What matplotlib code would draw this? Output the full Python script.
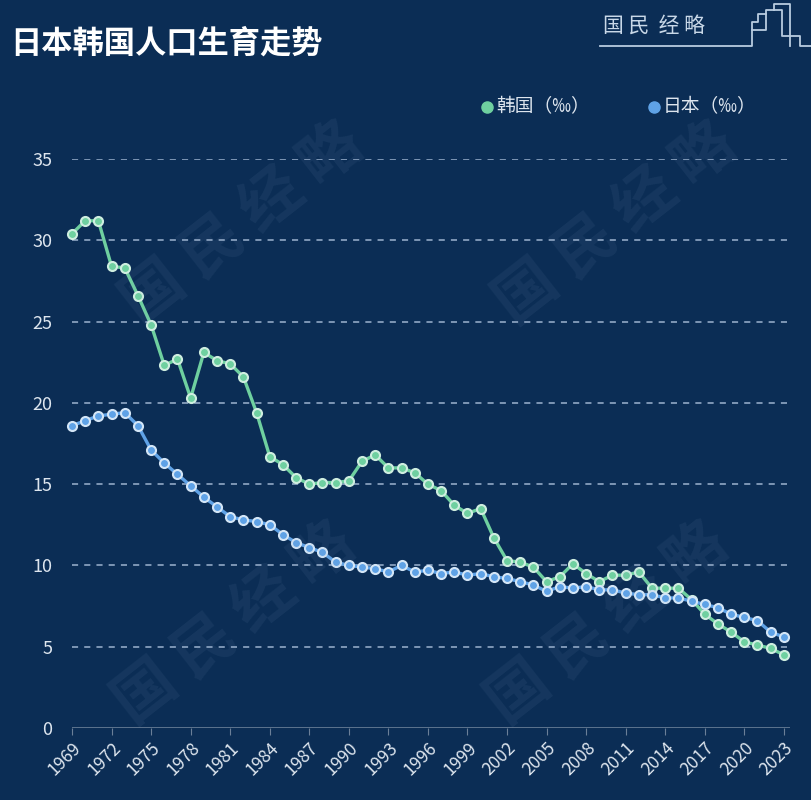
import matplotlib
matplotlib.use("Agg")
import matplotlib.pyplot as plt
from matplotlib.lines import Line2D
import numpy as np

plt.rcParams['font.family'] = ['Noto Sans CJK SC', 'DejaVu Sans']

# data (births per 1000) ---
years = list(range(1969, 2024))
korea = [30.4, 31.2, 31.2, 28.4, 28.3, 26.6, 24.8, 22.3, 22.7, 20.3,
         23.1, 22.6, 22.4, 21.6, 19.4, 16.7, 16.2, 15.4, 15.0, 15.1,
         15.1, 15.2, 16.4, 16.8, 16.0, 16.0, 15.7, 15.0, 14.6, 13.7,
         13.2, 13.5, 11.7, 10.3, 10.2, 9.9, 9.0, 9.3, 10.1, 9.5,
         9.0, 9.4, 9.4, 9.6, 8.6, 8.6, 8.6, 7.9, 7.0, 6.4,
         5.9, 5.3, 5.1, 4.9, 4.5]
japan = [18.6, 18.9, 19.2, 19.3, 19.4, 18.6, 17.1, 16.3, 15.6, 14.9,
         14.2, 13.6, 13.0, 12.8, 12.7, 12.5, 11.9, 11.4, 11.1, 10.8,
         10.2, 10.0, 9.9, 9.8, 9.6, 10.0, 9.6, 9.7, 9.5, 9.6,
         9.4, 9.5, 9.3, 9.2, 9.0, 8.8, 8.4, 8.7, 8.6, 8.7,
         8.5, 8.5, 8.3, 8.2, 8.2, 8.0, 8.0, 7.8, 7.6, 7.4,
         7.0, 6.8, 6.6, 5.9, 5.6]
xticks = list(range(1969, 2024, 3))
yticks = [0, 5, 10, 15, 20, 25, 30, 35]

title = '日本韩国人口生育走势'
label_kr = '韩国（‰）'
label_jp = '日本（‰）'
brand = '国民经略'

# style ---
BG = '#0b2d55'
GREEN = '#6fd0a0'
BLUE = '#5fa2e6'
TXT = '#dde5ee'

fig = plt.figure(figsize=(8.11, 8.0), dpi=100, facecolor=BG)
ax = fig.add_axes([0.0888, 0.09, 0.885, 0.71125])
ax.set_facecolor(BG)

# watermarks (spaced characters, faint)
wm = ' '.join(brand)
for (wx, wy) in [(0.30, 0.72), (0.76, 0.72), (0.29, 0.22), (0.75, 0.22)]:
    fig.text(wx, wy, wm, fontsize=44, color='#8aa6c8', alpha=0.085,
             rotation=38, ha='center', va='center', fontweight='bold', zorder=0)

for y in yticks[1:]:
    ax.axhline(y, color='#9db3cf', lw=1.1, ls=(0, (4, 4)), zorder=1)
ax.axhline(0, color='#6b7f98', lw=1.2, zorder=1)

ax.plot(years, korea, color=GREEN, lw=2.4, marker='o', ms=6.5,
        mfc=GREEN, mec='#cfeee0', mew=1.5, zorder=3, clip_on=False)
ax.plot(years, japan, color=BLUE, lw=2.4, marker='o', ms=6.5,
        mfc=BLUE, mec='#d4e6f7', mew=1.5, zorder=3, clip_on=False)

ax.set_xlim(1969, 2023.45)
ax.set_ylim(0, 35)
ax.set_yticks(yticks)
ax.set_xticks(xticks)
ax.set_xticklabels([str(x) for x in xticks], rotation=45, ha='right',
                   rotation_mode='anchor', fontsize=12.5, color=TXT)
ax.set_yticklabels([str(y) for y in yticks], fontsize=13, color=TXT)
ax.tick_params(axis='y', length=0, pad=14)
ax.tick_params(axis='x', length=5, color='#6b7f98', pad=3)
for s in ax.spines.values():
    s.set_visible(False)

# title
fig.text(0.012, 0.945, title, fontsize=22.5, fontweight='heavy', color='white',
         ha='left', va='center')

# legend
fig.add_artist(Line2D([0.601], [0.866], marker='o', ms=8, color=GREEN,
                      transform=fig.transFigure))
fig.text(0.612, 0.866, label_kr, fontsize=13.5, color=TXT, ha='left', va='center')
fig.add_artist(Line2D([0.806], [0.866], marker='o', ms=8, color=BLUE,
                      transform=fig.transFigure))
fig.text(0.817, 0.866, label_jp, fontsize=13.5, color=TXT, ha='left', va='center')

# brand logo top right
fig.text(0.744, 0.968, '国 民  经 略', fontsize=15, color='#c9d8e8',
         ha='left', va='center')
lc = '#b8cce0'
px = 1 / 811
py = 1 / 800
logo = [
    ([600, 750, 752, 752, 766, 766, 782, 782, 800, 800, 811],
     [46, 46, 46, 30, 30, 10, 10, 36, 36, 46, 46]),
    ([752, 752, 758, 758, 766], [30, 22, 22, 14, 14]),
    ([774, 774, 790, 790], [10, 4, 4, 46]),
]
for xs, ys in logo:
    fig.add_artist(Line2D([x * px for x in xs], [1 - y * py for y in ys],
                          color=lc, lw=1.3, transform=fig.transFigure))

fig.savefig('out.png', dpi=100, facecolor=BG)
